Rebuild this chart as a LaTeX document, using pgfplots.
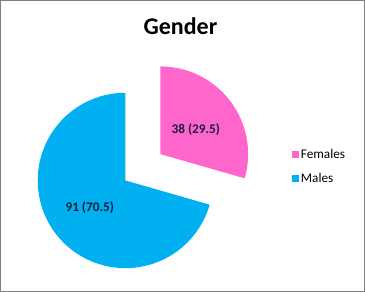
\documentclass[border=0pt]{standalone}
\usepackage{fontspec}
\setmainfont{Carlito}
\usepackage{pgfplots}
\pgfplotsset{compat=1.18}
\usetikzlibrary{calc}
\definecolor{fem}{RGB}{255,102,204}
\definecolor{mal}{RGB}{0,176,240}
\definecolor{lbl}{RGB}{25,30,60}
\definecolor{frame}{RGB}{128,128,128}
% data: counts
\def\Females{38}
\def\Males{91}
\begin{document}
\begin{tikzpicture}
\begin{axis}[
  scale only axis, width=365bp, height=292bp,
  xmin=0, xmax=365, ymin=0, ymax=292,
  hide axis, clip=false,
  legend style={at={(axis cs:289,145)}, anchor=north west, draw=none, fill=none,
    font=\fontsize{13bp}{15bp}\selectfont, row sep=9bp, inner sep=0pt,
    legend cell align=left},
  legend image code/.code={\fill[#1] (0bp,-3.2bp) rectangle (6.5bp,3.3bp);},
]
\pgfmathsetmacro{\tot}{\Females+\Males}
\pgfmathsetmacro{\fang}{360*\Females/\tot}
\pgfmathsetmacro{\fend}{90-\fang}
\pgfmathsetmacro{\mend}{450-\fang}
\pgfmathsetmacro{\fmid}{90-\fang/2}
% frame
\draw[frame, line width=1bp] (axis cs:3.5,288.5) rectangle (axis cs:360.5,3.5);
% title
\node[font=\fontsize{23.5bp}{26bp}\selectfont\bfseries] at (axis cs:180,263) {Gender};
% male wedge
\fill[mal] (axis cs:126,112) -- ++(90:86bp) arc[start angle=90, end angle=\mend, radius=86bp] -- cycle;
% female wedge, exploded
\fill[fem] ($(axis cs:126,112)+(\fmid:43bp)$) -- ++(90:86bp) arc[start angle=90, end angle=\fend, radius=86bp] -- cycle;
% labels
\node[lbl, font=\fontsize{13bp}{15bp}\selectfont\bfseries] at (axis cs:195,162) {38 (29.5)};
\node[lbl, font=\fontsize{13bp}{15bp}\selectfont\bfseries] at (axis cs:91,85) {91 (70.5)};
\addlegendimage{fem}
\addlegendentry{Females}
\addlegendimage{mal}
\addlegendentry{Males}
\end{axis}
\end{tikzpicture}
\end{document}
